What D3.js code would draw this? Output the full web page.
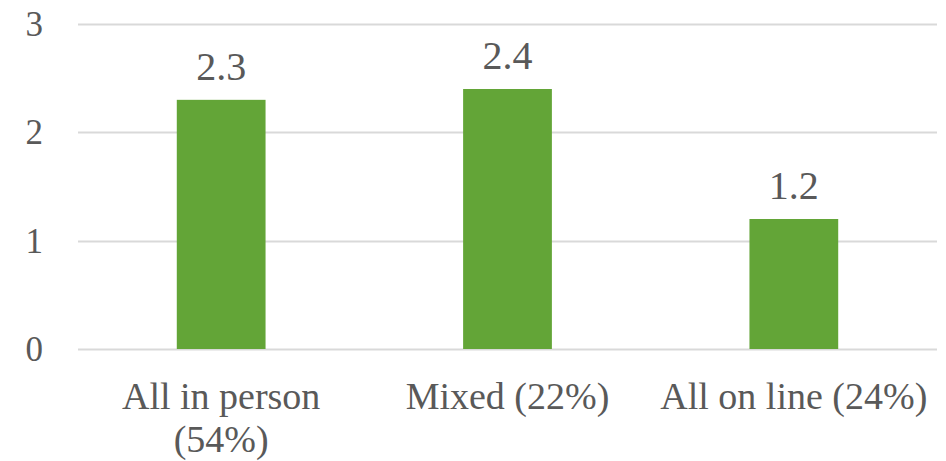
<!DOCTYPE html>
<html>
<head>
<meta charset="utf-8">
<script src="https://cdn.jsdelivr.net/npm/d3@7"></script>
<style>
  body { margin: 0; background: #fff; }
  text { font-family: "Liberation Serif", "DejaVu Serif", serif; fill: #595959; }
</style>
</head>
<body>
<div id="chart"></div>
<script>
var categories = ["All in person (54%)", "Mixed (22%)", "All on line (24%)"];
var categoryLines = [["All in person", "(54%)"], ["Mixed (22%)"], ["All on line (24%)"]];
var values = [2.3, 2.4, 1.2];
var yTicks = [0, 1, 2, 3];

var width = 946,
    height = 461,
    margin = {top: 24, right: 9, bottom: 112, left: 78},
    barColor = "#63a537",
    gridColor = "#d9d9d9";

var svg = d3.select("#chart").append("svg")
    .attr("width", width)
    .attr("height", height);

var x = d3.scaleBand()
    .domain(categories)
    .range([margin.left, width - margin.right])
    .paddingInner(0.69)
    .paddingOuter(0.345);

var y = d3.scaleLinear()
    .domain([0, 3])
    .range([height - margin.bottom, margin.top]);

// gridlines
svg.append("g").selectAll("line")
    .data(yTicks)
    .enter().append("line")
    .attr("x1", margin.left)
    .attr("x2", width - margin.right)
    .attr("y1", function(d) { return Math.round(y(d)) + 0.5; })
    .attr("y2", function(d) { return Math.round(y(d)) + 0.5; })
    .attr("stroke", gridColor)
    .attr("stroke-width", 2);

// y labels
svg.append("g").selectAll("text")
    .data(yTicks)
    .enter().append("text")
    .attr("x", 43)
    .attr("y", function(d) { return y(d) + 12; })
    .attr("text-anchor", "end")
    .style("font-size", "35px")
    .text(function(d) { return d; });

// bars
svg.append("g").selectAll("rect")
    .data(values)
    .enter().append("rect")
    .attr("x", function(d, i) { return x(categories[i]); })
    .attr("width", x.bandwidth())
    .attr("y", function(d) { return y(d); })
    .attr("height", function(d) { return y(0) - y(d); })
    .attr("fill", barColor);

// value labels
svg.append("g").selectAll("text")
    .data(values)
    .enter().append("text")
    .attr("x", function(d, i) { return x(categories[i]) + x.bandwidth() / 2; })
    .attr("y", function(d) { return y(d) - 20; })
    .attr("text-anchor", "middle")
    .style("font-size", "40px")
    .text(function(d) { return d.toFixed(1); });

// category labels
var cat = svg.append("g").selectAll("text")
    .data(categories)
    .enter().append("text")
    .attr("x", function(d) { return x(d) + x.bandwidth() / 2; })
    .attr("y", 409)
    .attr("text-anchor", "middle")
    .style("font-size", "38px");

cat.each(function(d, i) {
    var t = d3.select(this);
    categoryLines[i].forEach(function(line, j) {
        t.append("tspan")
            .attr("x", x(d) + x.bandwidth() / 2)
            .attr("dy", j === 0 ? 0 : 43)
            .text(line);
    });
});
</script>
</body>
</html>
